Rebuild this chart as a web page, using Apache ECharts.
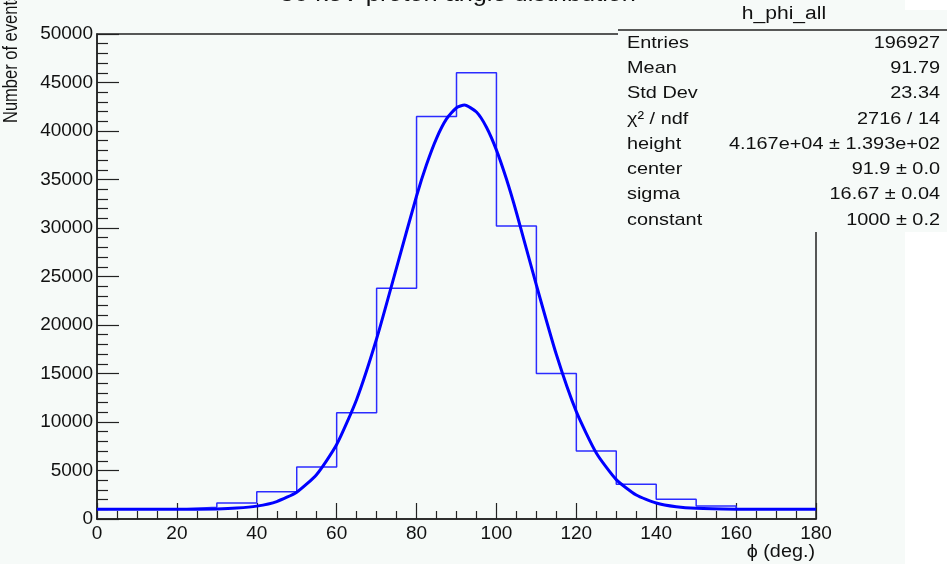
<!DOCTYPE html>
<html>
<head>
<meta charset="utf-8">
<script src="https://cdn.jsdelivr.net/npm/echarts@6/dist/echarts.min.js"></script>
<style>
  html, body { margin: 0; padding: 0; background: #ffffff; }
  #chart { width: 947px; height: 564px; }
</style>
</head>
<body>
<div id="chart"></div>
<script>
(function () {
  'use strict';

  // histogram: lower bin edges (deg.) and counts per bin
  var binEdges = [0, 10, 20, 30, 40, 50, 60, 70, 80, 90, 100, 110, 120, 130, 140, 150, 160, 170];
  var binCounts = [1000, 1000, 1200, 1650, 2800, 5350, 10960, 23800, 41500, 46000, 30200, 15000, 7000, 3580, 2030, 1340, 1050, 1000];
  var xMax = 180;

  // gaussian fit
  var fitX = [0, 20, 30, 35, 40, 45, 50, 55, 60, 65, 70, 75, 80, 82.5, 85, 87.5, 90, 92, 95, 97.5, 100, 102.5, 105, 110, 115, 120, 125, 130, 135, 140, 145, 150, 160, 170, 180];
  var fitY = [1000, 1004, 1042, 1123, 1327, 1797, 2769, 4596, 7675, 12326, 18581, 25923, 33298, 36545, 39249, 41245, 42400, 42670, 41954, 40387, 38032, 35044, 31598, 24110, 16955, 11063, 6805, 4058, 2473, 1648, 1261, 1096, 1010, 1000, 1000];

  var statLabels = ['Entries', 'Mean', 'Std Dev', 'χ² / ndf', 'height', 'center', 'sigma', 'constant'];
  var statValues = ['196927', '91.79', '23.34', '2716 / 14', '4.167e+04 ± 1.393e+02', '91.9 ± 0.0', '16.67 ± 0.04', '1000 ± 0.2'];

  var padColor = '#f6faf8';
  var fontFamily = 'Liberation Sans';

  var histData = binEdges.map(function (x, i) { return [x, binCounts[i]]; });
  histData.push([xMax, binCounts[binCounts.length - 1]]);
  var fitData = fitX.map(function (x, i) { return [x, fitY[i]]; });

  function label(x, y, text, size, align, vAlign, extra) {
    var el = {
      type: 'text', z: 101, x: x, y: y, scaleX: 1.17,
      style: {
        text: text, fontSize: size, fontFamily: fontFamily, fill: '#111',
        textAlign: align, textVerticalAlign: vAlign
      }
    };
    if (extra) {
      for (var k in extra) el[k] = extra[k];
    }
    return el;
  }

  var graphics = [
    { type: 'rect', z: 90, shape: { x: 0, y: 0, width: 905, height: 564 }, style: { fill: padColor }, silent: true },
    // title, cut off at the top edge
    label(458, 6, '30 keV proton angle distribution', 22, 'center', 'bottom', { scaleX: 1.15 }),
    // stats box
    { type: 'rect', z: 100, shape: { x: 618, y: 10, width: 340, height: 222 }, style: { fill: padColor } },
    { type: 'line', z: 101, shape: { x1: 618, y1: 30, x2: 947, y2: 30 }, style: { stroke: '#222', lineWidth: 1.5 } },
    label(784, 14, 'h_phi_all', 18, 'center', 'middle'),
    // axis titles
    label(22, 123, 'Number of events', 16.5, 'left', 'bottom', { rotation: Math.PI / 2, scaleX: 1, scaleY: 1.25 }),
    label(815, 552, 'ϕ (deg.)', 18, 'right', 'middle', { scaleX: 1.1 })
  ];

  statLabels.forEach(function (text, i) {
    var y = 43 + i * 25.3;
    graphics.push(label(627, y, text, 17, 'left', 'middle'));
    graphics.push(label(940, y, statValues[i], 17, 'right', 'middle'));
  });

  var chart = echarts.init(document.getElementById('chart'), null, { renderer: 'canvas' });

  chart.setOption({
    animation: false,
    backgroundColor: '#ffffff',
    grid: {
      left: 97, top: 34, width: 719, height: 485,
      show: true, borderColor: '#222', borderWidth: 1.5, backgroundColor: 'transparent', z: 95
    },
    graphic: graphics,
    xAxis: {
      type: 'value', min: 0, max: xMax, interval: 20, z: 96,
      axisLine: { show: true, onZero: false, lineStyle: { color: '#222', width: 1.5 } },
      axisTick: { show: true, inside: true, length: 16, lineStyle: { color: '#222', width: 1.2 } },
      minorTick: { show: true, splitNumber: 4, length: 8, lineStyle: { color: '#222', width: 1.2 } },
      axisLabel: { color: '#111', fontSize: 19, fontFamily: fontFamily, margin: 5 },
      splitLine: { show: false }
    },
    yAxis: {
      type: 'value', min: 0, max: 50000, interval: 5000, z: 96,
      axisLine: { show: true, lineStyle: { color: '#222', width: 1.5 } },
      axisTick: { show: true, inside: true, length: 22, lineStyle: { color: '#222', width: 1.2 } },
      minorTick: { show: true, splitNumber: 5, length: 11, lineStyle: { color: '#222', width: 1.2 } },
      axisLabel: {
        color: '#111', fontSize: 19, fontFamily: fontFamily, margin: 4,
        formatter: function (v) { return String(v); }
      },
      splitLine: { show: false }
    },
    series: [
      {
        name: 'h_phi_all', type: 'line', step: 'end', data: histData, z: 97,
        showSymbol: false, lineStyle: { color: '#2b2bff', width: 1.5 }
      },
      {
        name: 'fit', type: 'line', smooth: 0.2, data: fitData, z: 98,
        showSymbol: false, lineStyle: { color: '#0000ff', width: 3 }
      }
    ]
  });
})();
</script>
</body>
</html>
